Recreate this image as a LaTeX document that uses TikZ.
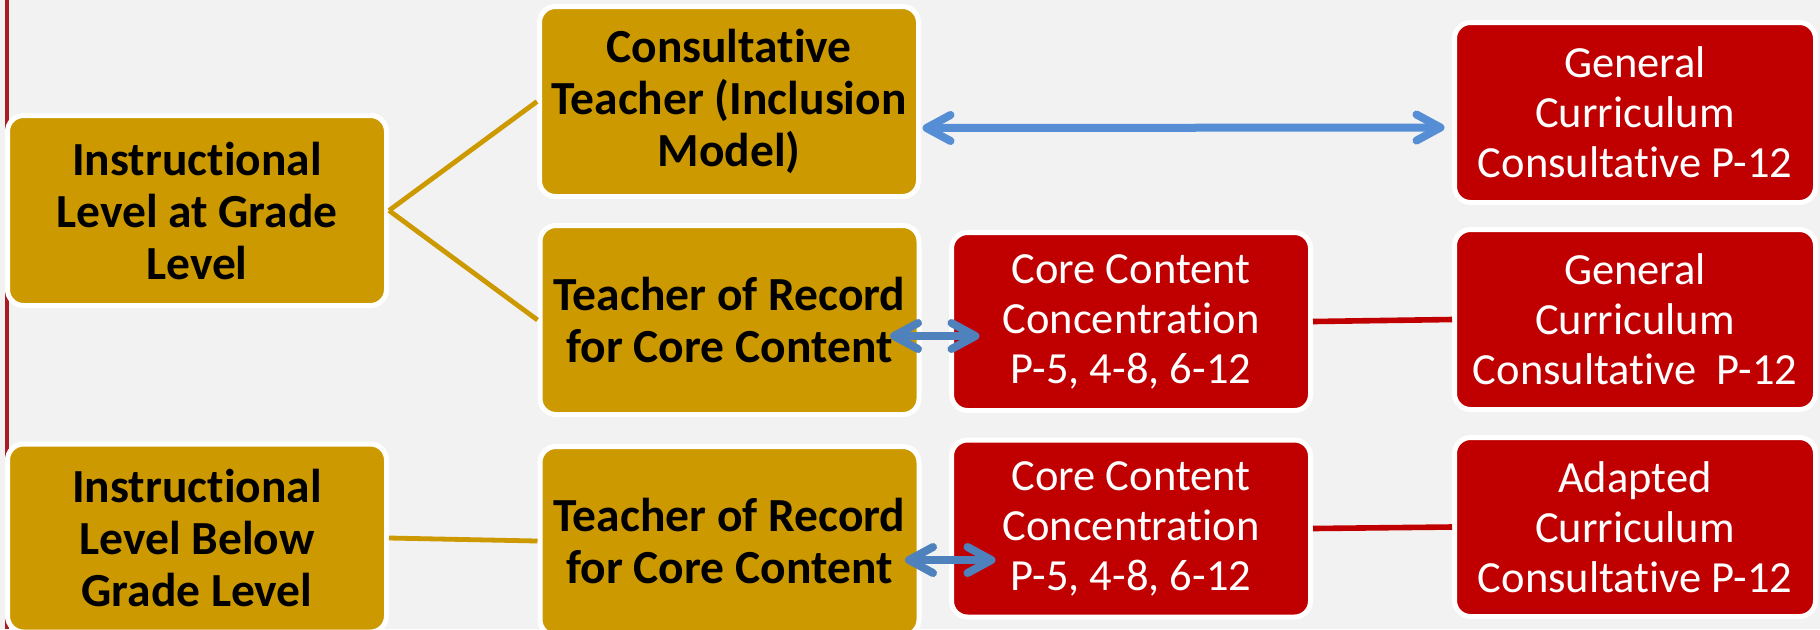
\documentclass[tikz,border=0pt]{standalone}
\usepackage{fontspec}
\setmainfont{Carlito}[Ligatures=NoCommon]
\usetikzlibrary{positioning}
\usetikzlibrary{arrows.meta}

\definecolor{bgGray}{RGB}{242,242,242}
\definecolor{goldFill}{RGB}{204,153,0}
\definecolor{redFill}{RGB}{192,0,0}
\definecolor{blueLight}{RGB}{85,142,213}
\definecolor{blueDark}{RGB}{79,129,189}
\definecolor{edgeRed}{RGB}{168,26,36}

\tikzset{
  goldbox/.style={draw=white, line width=2.5pt, fill=goldFill, rounded corners=8pt,
    minimum width=189.5pt, minimum height=95pt, inner sep=0pt, align=center,
    text=black, font=\fontsize{23.75}{26}\selectfont\bfseries},
  redbox/.style={draw=white, line width=2.5pt, fill=redFill, rounded corners=8pt,
    minimum width=180.5pt, minimum height=90pt, inner sep=0pt, align=center,
    text=white, font=\fontsize{22.25}{25}\selectfont},
  goldline/.style={draw=goldFill, line width=2.4pt},
  redline/.style={draw=redFill, line width=2.8pt},
  biarrow/.style={line width=4pt,
    {Straight Barb[length=12pt,width=13pt,round]}-{Straight Barb[length=12pt,width=13pt,round]}},
}

\begin{document}
\begin{tikzpicture}[x=0.5pt,y=0.5pt,yscale=-1,xscale=1]
                  \useasboundingbox (0,0) rectangle (1820,629);
                  %Shape: Background
                  \fill [bgGray] (0,0) rectangle (1820,629);
                  %Shape: Left rule
                  \draw [edgeRed, line width=2pt] (7,0) -- (7,629);

                  % Text Node
                  \node [goldbox] (gradeLvl) at (197,210.5) {Instructional\\Level at Grade\\Level};
                  % Text Node
                  \node [goldbox, minimum height=94pt] (belowLvl) at (197,538) {Instructional\\Level Below\\Grade Level};
                  % Text Node
                  \node [goldbox] (consult) at (729,101.5) {Consultative\\Teacher (Inclusion\\Model)};
                  % Text Node
                  \node [goldbox, minimum height=94.5pt] (torMid) at (729.5,320) {Teacher of Record\\for Core Content};
                  % Text Node
                  \node [goldbox, minimum height=94.5pt] (torBot) at (729.5,541) {Teacher of Record\\for Core Content};
                  % Text Node
                  \node [redbox, minimum width=179.5pt, minimum height=89pt] (coreMid) at (1131,321.5) {Core Content\\Concentration\\P-5, 4-8, 6-12};
                  % Text Node
                  \node [redbox, minimum width=179.5pt, minimum height=88.5pt] (coreBot) at (1131,528.5) {Core Content\\Concentration\\P-5, 4-8, 6-12};
                  % Text Node
                  \node [redbox] (genTop) at (1635,112.5) {General\\Curriculum\\Consultative P-12};
                  % Text Node
                  \node [redbox] (genMid) at (1635,319.5) {General\\Curriculum\\Consultative~~P-12};
                  % Text Node
                  \node [redbox, minimum height=89.5pt] (adapted) at (1635,527) {Adapted\\Curriculum\\Consultative P-12};

                  %Straight Lines
                  \draw [goldline] (gradeLvl.east) -- (consult.west);
                  \draw [goldline] (gradeLvl.east) -- (torMid.west);
                  \draw [goldline] (belowLvl.east) -- (torBot.west);
                  \draw [redline] (coreMid.east) -- (genMid.west);
                  \draw [redline] (coreBot.east) -- (adapted.west);

                  %Double arrows
                  \draw [biarrow, blueLight] ([xshift=0.75pt,yshift=13.25pt]consult.east) -- ([xshift=-3.75pt,yshift=7.5pt]genTop.west);
                  \draw [biarrow, blueDark] ([xshift=-15.75pt,yshift=8pt]torMid.east) -- ([xshift=15.25pt,yshift=7.25pt]coreMid.west);
                  \draw [biarrow, blueDark] ([xshift=-8.25pt,yshift=9.5pt]torBot.east) -- ([xshift=23.25pt,yshift=15.75pt]coreBot.west);

              \end{tikzpicture}
\end{document}
